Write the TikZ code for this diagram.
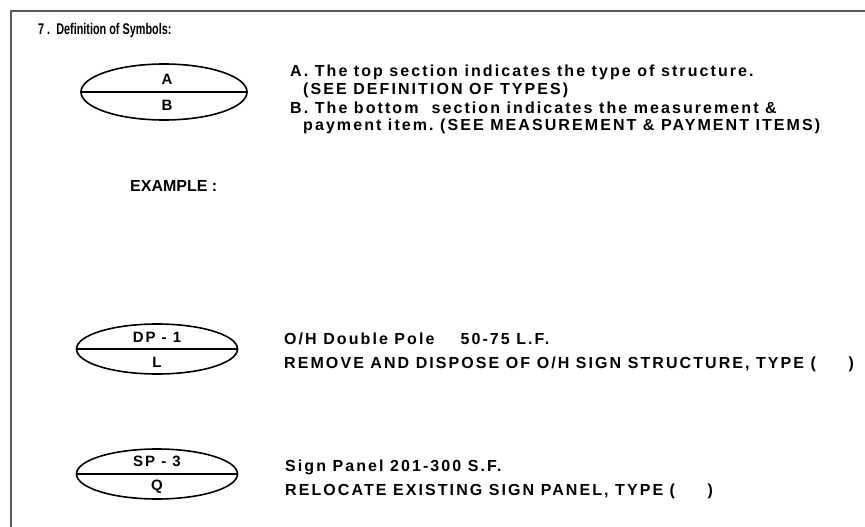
\documentclass[tikz,border=0pt]{standalone}
\usepackage{fontspec}
\setmainfont{Liberation Sans}[LetterSpace=13]
\newfontfamily\tightfont{Liberation Sans}[FakeStretch=0.7,BoldFeatures={FakeStretch=0.7}]
\newfontfamily\plainfont{Liberation Sans}
\usetikzlibrary{shapes.geometric}

\begin{document}
\begin{tikzpicture}[x=1pt,y=-1pt,
  txt/.style={anchor=west,inner sep=0pt,font=\fontsize{16}{18}\selectfont\bfseries},
  head/.style={anchor=west,inner sep=0pt,font=\tightfont\fontsize{15.5}{18}\selectfont\bfseries},
  note/.style={anchor=west,inner sep=0pt,font=\plainfont\fontsize{16}{18}\selectfont\bfseries},
  lbl/.style={inner sep=0pt,font=\fontsize{15}{17}\selectfont\bfseries},
  sym/.style={draw,ellipse,line width=1.6pt,inner sep=0pt},
  frame/.style={line width=1.5pt,black!65}]
\useasboundingbox (0,0) rectangle (865,527);
\draw [frame] (11,527) -- (11,11) -- (865,11);
\node[head] (title) at (38,30) {7 .\ \ Definition of Symbols:};
% symbol key
\node[sym,minimum width=166pt,minimum height=56pt] (symAB) at (164,92) {};
\draw [line width=1.6pt] (symAB.west) -- (symAB.east);
\node[lbl] (labA) at (167,79) {A};
\node[lbl] (labB) at (167,105) {B};
\node[txt] (defA) at (290,72) {A.\ The top section indicates the type of structure.};
\node[txt] (defAb) at (303,90) {(SEE DEFINITION OF TYPES)};
\node[txt] (defB) at (290,108) {B.\ The bottom\ \ section indicates the measurement \&};
\node[txt] (defBb) at (303,126) {payment item.\ (SEE MEASUREMENT \& PAYMENT ITEMS)};
\node[note] (example) at (130,186) {EXAMPLE\ :};
% example 1
\node[sym,minimum width=161pt,minimum height=50pt] (symDP) at (157,349) {};
\draw [line width=1.6pt] (symDP.west) -- (symDP.east);
\node[lbl] (labDP) at (157,337) {DP\ -\ 1};
\node[lbl] (labL) at (157,362) {L};
\node[txt] (descDP) at (284,339) {O/H Double Pole\ \ \ \ 50-75 L.F.};
\node[txt] (itemDP) at (284,364) {REMOVE AND DISPOSE OF O/H SIGN STRUCTURE, TYPE (\ \ \ \ \ )};
% example 2
\node[sym,minimum width=161pt,minimum height=50pt] (symSP) at (157,474) {};
\draw [line width=1.6pt] (symSP.west) -- (symSP.east);
\node[lbl] (labSP) at (157,461) {SP\ -\ 3};
\node[lbl] (labQ) at (157,487) {Q};
\node[txt] (descSP) at (285,467) {Sign Panel 201-300 S.F.};
\node[txt] (itemSP) at (285,491) {RELOCATE EXISTING SIGN PANEL, TYPE (\ \ \ \ \ )};
\end{tikzpicture}
\end{document}
